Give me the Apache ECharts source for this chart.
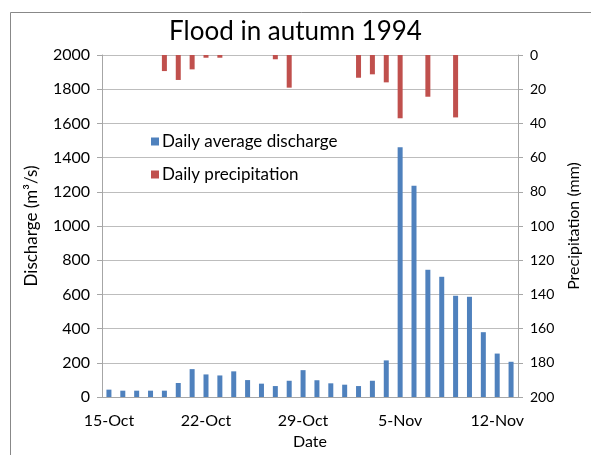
<!DOCTYPE html>
<html>
<head>
<meta charset="utf-8">
<script src="https://cdn.jsdelivr.net/npm/echarts@6/dist/echarts.min.js"></script>
<style>
  html, body { margin: 0; padding: 0; background: #fff; }
  #chart { width: 591px; height: 455px; }
</style>
</head>
<body>
<div id="chart"></div>
<script>
var dates = [
  "15-Oct", "16-Oct", "17-Oct", "18-Oct", "19-Oct", "20-Oct", "21-Oct",
  "22-Oct", "23-Oct", "24-Oct", "25-Oct", "26-Oct", "27-Oct", "28-Oct",
  "29-Oct", "30-Oct", "31-Oct", "1-Nov", "2-Nov", "3-Nov", "4-Nov",
  "5-Nov", "6-Nov", "7-Nov", "8-Nov", "9-Nov", "10-Nov", "11-Nov",
  "12-Nov", "13-Nov"
];
// m3/s
var discharge = [
  43, 37, 37, 37, 37, 82, 163, 132, 126, 150, 99, 78, 64, 95, 157,
  98, 80, 72, 64, 95, 214, 1460, 1235, 744, 703, 592, 586, 379, 254, 206
];
// mm
var precip = [
  0, 0, 0, 0, 9.4, 14.6, 8.4, 1.6, 1.6, 0, 0, 0, 2.5, 19.1, 0,
  0, 0, 0, 13.3, 11.3, 16, 37, 0, 24.4, 0, 36.5, 0, 0, 0, 0
];

var font = "Lato, 'Open Sans', sans-serif";
var chart = echarts.init(document.getElementById("chart"));

var option = {
  animation: false,
  backgroundColor: "#fff",
  textStyle: { fontFamily: font },
  title: {
    text: "Flood in autumn 1994",
    left: "center",
    top: 14,
    textStyle: { fontFamily: font, fontSize: 26, fontWeight: "normal", color: "#000" }
  },
  graphic: [
    {
      type: "rect",
      shape: { x: 10.5, y: 12.5, width: 600, height: 460 },
      style: { fill: null, stroke: "#888", lineWidth: 1 },
      silent: true
    }
  ],
  legend: {
    orient: "vertical",
    left: 146,
    top: 128,
    itemGap: 16,
    itemWidth: 8,
    itemHeight: 8,
    icon: "rect",
    textStyle: { fontFamily: font, fontSize: 17, color: "#000", padding: [0, 0, 0, -2] },
    data: ["Daily average discharge", "Daily precipitation"]
  },
  grid: { left: 102, right: 73, top: 55, bottom: 58, outerBoundsMode: "none" },
  xAxis: {
    type: "category",
    data: dates,
    name: "Date",
    nameLocation: "middle",
    nameGap: 36,
    nameTextStyle: { fontSize: 16, color: "#000" },
    axisLine: { lineStyle: { color: "#a6a6a6" } },
    axisTick: { show: false },
    axisLabel: { interval: 6, fontSize: 16, color: "#000", margin: 16 }
  },
  yAxis: [
    {
      type: "value",
      min: 0,
      max: 2000,
      interval: 200,
      name: "Discharge (m³/s)",
      nameLocation: "middle",
      nameGap: 62,
      nameTextStyle: { fontSize: 17, color: "#000" },
      axisLine: { show: true, lineStyle: { color: "#a6a6a6" } },
      axisTick: { show: true, length: 5, lineStyle: { color: "#a6a6a6" } },
      axisLabel: {
        fontSize: 16,
        color: "#000",
        margin: 12,
        formatter: function (v) { return String(v); }
      },
      splitLine: { lineStyle: { color: "#bdbdbd" } }
    },
    {
      type: "value",
      min: 0,
      max: 200,
      interval: 20,
      inverse: true,
      name: "Precipitation (mm)",
      nameLocation: "middle",
      nameGap: 48,
      nameRotate: 90,
      nameTextStyle: { fontSize: 16, color: "#000" },
      axisLine: { show: true, lineStyle: { color: "#a6a6a6" } },
      axisTick: { show: true, length: 5, lineStyle: { color: "#a6a6a6" } },
      axisLabel: { fontSize: 14, color: "#000", margin: 12 },
      splitLine: { show: false }
    }
  ],
  series: [
    {
      name: "Daily average discharge",
      type: "bar",
      yAxisIndex: 0,
      barWidth: 5,
      barGap: "-100%",
      itemStyle: { color: "#4f81bd" },
      data: discharge
    },
    {
      name: "Daily precipitation",
      type: "bar",
      yAxisIndex: 1,
      barWidth: 5,
      barGap: "-100%",
      itemStyle: { color: "#c0504d" },
      data: precip
    }
  ]
};

chart.setOption(option);
</script>
</body>
</html>
